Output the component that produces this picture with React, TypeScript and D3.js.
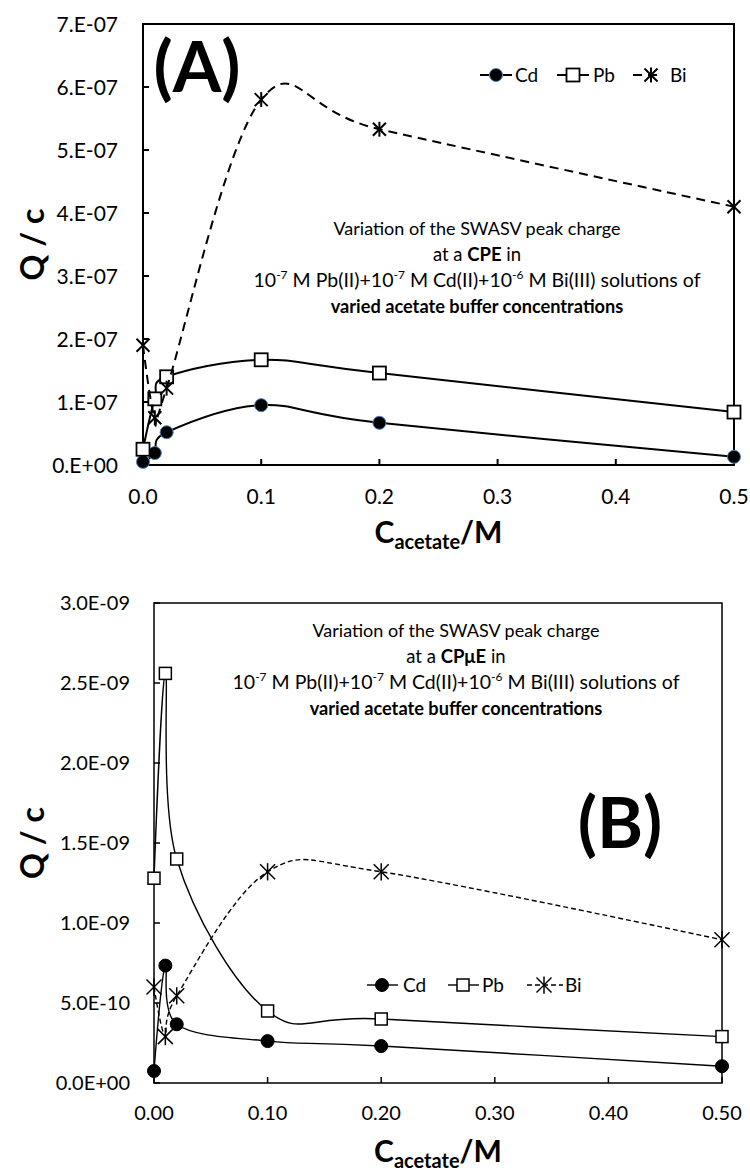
import React from 'react';
import * as d3 from 'd3';

const FONT = 'Lato, "Open Sans", Arial, sans-serif';

// acetate buffer concentration (M), same for every series
const conc = [0, 0.01, 0.02, 0.1, 0.2, 0.5];
const seriesNames = ['Cd', 'Pb', 'Bi'];

// (A) CPE
const cdCPE = [0.05e-7, 0.19e-7, 0.52e-7, 0.95e-7, 0.67e-7, 0.13e-7];
const pbCPE = [0.25e-7, 1.05e-7, 1.4e-7, 1.67e-7, 1.46e-7, 0.84e-7];
const biCPE = [1.9e-7, 0.75e-7, 1.22e-7, 5.8e-7, 5.33e-7, 4.1e-7];
const yTicksA = [0, 1e-7, 2e-7, 3e-7, 4e-7, 5e-7, 6e-7, 7e-7];
const yLabelsA = ['0.E+00', '1.E-07', '2.E-07', '3.E-07', '4.E-07', '5.E-07', '6.E-07', '7.E-07'];
const xTicks = [0, 0.1, 0.2, 0.3, 0.4, 0.5];
const xLabelsA = ['0.0', '0.1', '0.2', '0.3', '0.4', '0.5'];

// (B) CPµE
const cdCPuE = [0.075e-9, 0.734e-9, 0.367e-9, 0.262e-9, 0.231e-9, 0.105e-9];
const pbCPuE = [1.28e-9, 2.56e-9, 1.4e-9, 0.45e-9, 0.4e-9, 0.29e-9];
const biCPuE = [0.6e-9, 0.29e-9, 0.545e-9, 1.32e-9, 1.32e-9, 0.895e-9];
const yTicksB = [0, 0.5e-9, 1e-9, 1.5e-9, 2e-9, 2.5e-9, 3e-9];
const yLabelsB = ['0.0E+00', '5.0E-10', '1.0E-09', '1.5E-09', '2.0E-09', '2.5E-09', '3.0E-09'];
const xLabelsB = ['0.00', '0.10', '0.20', '0.30', '0.40', '0.50'];

const Marker = ({kind, x, y, st}: any) => {
    if (kind === 'Cd') {
        return <circle cx={x} cy={y} r={st.r} fill="#000" stroke={st.cdStroke} strokeWidth={1}/>;
    }
    if (kind === 'Pb') {
        const h = st.sq;
        return <rect x={x - h} y={y - h} width={2 * h} height={2 * h} fill="#fff" stroke="#000" strokeWidth={st.sqW}/>;
    }
    const s = st.star;
    return (
        <g stroke="#000" strokeWidth={st.starW}>
            <line x1={x - s} y1={y - s} x2={x + s} y2={y + s}/>
            <line x1={x - s} y1={y + s} x2={x + s} y2={y - s}/>
            <line x1={x} y1={y - s * 1.15} x2={x} y2={y + s * 1.15}/>
        </g>
    );
};

const Panel = (p: any) => {
    const st = p.st;
    const x = d3.scaleLinear().domain([0, 0.5]).range([p.left, p.right]);
    const y = d3.scaleLinear().domain([0, p.yMax]).range([p.bottom, p.top]);
    const line = d3.line<number>()
        .x((_, i) => x(conc[i]))
        .y(v => y(v))
        .curve(d3.curveCardinal.tension(0)); // excel "smoothed line"

    const data = [p.cd, p.pb, p.bi];
    const cx = (p.left + p.right) / 2;
    const cy = (p.top + p.bottom) / 2;

    return (
        <g>
            {/* frame */}
            <rect x={p.left} y={p.top} width={p.right - p.left} height={p.bottom - p.top}
                  fill="none" stroke="#000" strokeWidth={st.axisW}/>
            {p.yTicks.map((t: number, i: number) => (
                <g key={'y' + i}>
                    <line x1={p.left} x2={p.left + 6} y1={y(t)} y2={y(t)} stroke="#000" strokeWidth={st.axisW}/>
                    <text x={p.yLabelX} y={y(t)} dy="0.36em" textAnchor="end" fontSize={st.tickFont}>{p.yLabels[i]}</text>
                </g>
            ))}
            {xTicks.map((t, i) => (
                <g key={'x' + i}>
                    <line x1={x(t)} x2={x(t)} y1={p.bottom} y2={p.bottom - 6} stroke="#000" strokeWidth={st.axisW}/>
                    <text x={x(t)} y={p.xLabelY} textAnchor="middle" fontSize={st.tickFont}>{p.xLabels[i]}</text>
                </g>
            ))}

            {/* series */}
            {data.map((vals: number[], k: number) => (
                <g key={'s' + k}>
                    <path d={line(vals) || ''} fill="none" stroke="#000" strokeWidth={st.lineW}
                          strokeDasharray={k === 2 ? st.dash : undefined}/>
                    {vals.map((v, i) => <Marker key={i} kind={seriesNames[k]} x={x(conc[i])} y={y(v)} st={st}/>)}
                </g>
            ))}

            {/* legend */}
            {seriesNames.map((n, k) => {
                const L = p.legend[k];
                return (
                    <g key={'l' + n}>
                        <line x1={L.x1} x2={L.x2} y1={p.legendY} y2={p.legendY} stroke="#000" strokeWidth={st.lineW}
                              strokeDasharray={k === 2 ? st.dash : undefined}/>
                        <Marker kind={n} x={L.m} y={p.legendY} st={st}/>
                        <text x={L.t} y={p.legendY} dy="0.36em" fontSize={st.legendFont}>{n}</text>
                    </g>
                );
            })}

            {/* titles */}
            <text transform={`translate(${p.yTitleX},${cy}) rotate(-90)`} textAnchor="middle"
                  fontWeight="bold" fontSize={32}>Q / c</text>
            <text x={cx} y={p.xTitleY} textAnchor="middle" fontWeight="bold" fontSize={30}>
                C<tspan fontSize={20} dy={6}>acetate</tspan><tspan dy={-6}>/M</tspan>
            </text>
            <text x={p.tag.x} y={p.tag.y} textAnchor="middle" fontWeight="bold" fontSize={70}>{p.tag.label}</text>

            {/* note */}
            <g textAnchor="middle">
                <text x={p.note.x} y={p.note.y} fontSize={18}>Variation of the SWASV peak charge</text>
                <text x={p.note.x} y={p.note.y + 26} fontSize={18.5}>at a <tspan fontWeight="bold">{p.note.electrode}</tspan> in</text>
                <text x={p.note.x} y={p.note.y + 52} fontSize={19.5}>
                    10<tspan dy={-8} fontSize={12}>-7</tspan><tspan dy={8}>{' M Pb(II)+10'}</tspan>
                    <tspan dy={-8} fontSize={12}>-7</tspan><tspan dy={8}>{' M Cd(II)+10'}</tspan>
                    <tspan dy={-8} fontSize={12}>-6</tspan><tspan dy={8}>{' M Bi(III) solutions of'}</tspan>
                </text>
                <text x={p.note.x} y={p.note.y + 78} fontSize={18.2} fontWeight="bold">varied acetate buffer concentrations</text>
            </g>
        </g>
    );
};

const panelA = {
    left: 143, right: 734, top: 24, bottom: 465, yMax: 7e-7,
    yTicks: yTicksA, yLabels: yLabelsA, xLabels: xLabelsA,
    cd: cdCPE, pb: pbCPE, bi: biCPE,
    yLabelX: 118, xLabelY: 504, xTitleY: 543, yTitleX: 44,
    legendY: 75,
    legend: [{x1: 480, x2: 512, m: 496, t: 515}, {x1: 557, x2: 589, m: 573, t: 593}, {x1: 633, x2: 660, m: 651, t: 670}],
    tag: {x: 197, y: 92, label: '(A)'},
    note: {x: 477, y: 235, electrode: 'CPE'},
    st: {axisW: 2, lineW: 2, dash: '9 6', r: 6.5, cdStroke: '#4a7ebb', sq: 6.5, sqW: 1.8, star: 6.5, starW: 2,
        tickFont: 21, legendFont: 19},
};

const panelB = {
    left: 154, right: 722, top: 603, bottom: 1083, yMax: 3e-9,
    yTicks: yTicksB, yLabels: yLabelsB, xLabels: xLabelsB,
    cd: cdCPuE, pb: pbCPuE, bi: biCPuE,
    yLabelX: 130, xLabelY: 1120, xTitleY: 1162, yTitleX: 44,
    legendY: 985,
    legend: [{x1: 367, x2: 398, m: 382, t: 403}, {x1: 448, x2: 479, m: 463, t: 482}, {x1: 527, x2: 563, m: 544, t: 565}],
    tag: {x: 620, y: 848, label: '(B)'},
    note: {x: 456, y: 637, electrode: 'CPμE'},
    st: {axisW: 1.5, lineW: 1.4, dash: '5 3', r: 6.5, cdStroke: '#000', sq: 6, sqW: 1.5, star: 7.5, starW: 1.5,
        tickFont: 20, legendFont: 19},
};

export default function App() {
    return (
        <svg width={750} height={1171} fontFamily={FONT}
             style={{position: 'absolute', left: 0, top: 0, background: '#fff'}}>
            <rect width={750} height={1171} fill="#fff"/>
            <Panel {...panelA}/>
            <Panel {...panelB}/>
        </svg>
    );
}
